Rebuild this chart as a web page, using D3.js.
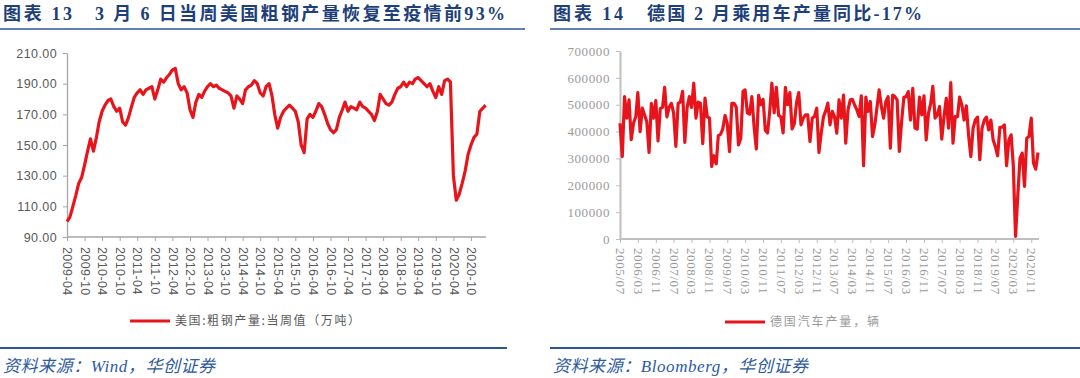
<!DOCTYPE html>
<html>
<head>
<meta charset="utf-8">
<script src="https://cdn.jsdelivr.net/npm/d3@7"></script>
<style>
body{margin:0;background:#fff;}
svg{display:block;}
</style>
</head>
<body>
<svg id="chart" width="1080" height="378"></svg>
<script>
// 美国粗钢产量（万吨），月度读数，起点 2009-04
var steelStart = "2009-04";
var steelValues = [
	100,103,110,117,125,129,137,146,154,146,155,165,
	172,176,179,180,175,172,174,165,163,168,175,181,
	184,186,183,186,187,188,180,186,193,191,194,196,
	199,200,190,186,188,184,173,168,178,183,181,185,
	188,190,188,189,187,186,185,184,182,174,182,180,
	177,186,188,189,192,190,184,182,188,190,182,170,
	161,168,172,174,176,174,172,165,150,145,167,170,
	168,172,177,175,170,164,160,158,160,168,173,178,
	172,175,174,173,178,175,174,172,170,166,172,183,
	180,177,176,178,183,187,188,191,188,191,190,193,
	194,192,190,188,190,185,181,188,183,192,193,191,
	130,114,118,125,133,144,150,155,157,172,174,176
];
var steelTicksY = [90,110,130,150,170,190,210];

// 德国汽车产量（辆），月度，起点 2005/07
var carStart = "2005-07";
var carValues = [
	431000,307000,530000,450000,518000,370000,431000,456000,545000,400000,487000,462000,
	437000,322000,505000,450000,515000,365000,485000,490000,565000,455000,490000,505000,
	470000,345000,505000,510000,550000,360000,490000,530000,490000,580000,450000,510000,
	505000,355000,525000,455000,450000,270000,310000,280000,385000,390000,410000,460000,
	430000,325000,505000,505000,490000,350000,375000,550000,555000,470000,465000,530000,
	420000,335000,535000,500000,520000,405000,395000,480000,580000,470000,565000,460000,
	455000,395000,565000,500000,545000,410000,430000,510000,545000,425000,450000,462000,
	462000,363000,450000,456000,487000,322000,394000,456000,475000,506000,425000,475000,
	456000,394000,518000,450000,536000,357000,481000,518000,520000,499000,481000,456000,
	533000,273000,528000,475000,512000,382000,425000,493000,555000,493000,450000,512000,
	530000,338000,536000,530000,518000,326000,437000,528000,530000,549000,443000,561000,
	413000,409000,528000,462000,533000,369000,468000,506000,568000,450000,462000,493000,
	372000,456000,524000,413000,582000,357000,456000,456000,528000,499000,443000,496000,
	388000,307000,413000,443000,454000,295000,413000,443000,454000,406000,443000,369000,
	344000,310000,416000,416000,425000,273000,369000,388000,276000,10000,159000,301000,
	320000,196000,375000,382000,450000,283000,260000,322000
];
var carTicksY = [0,100000,200000,300000,400000,500000,600000,700000];

var titleNums = ["图表 13", "图表 14"];
var titleTexts = ["3 月 6 日当周美国粗钢产量恢复至疫情前93%", "德国 2 月乘用车产量同比-17%"];
var legendNames = ["美国:粗钢产量:当周值（万吨）", "德国汽车产量，辆"];
var sources = ["资料来源：Wind，华创证券", "资料来源：Bloomberg，华创证券"];

var parseMonth = d3.timeParse("%Y-%m");
var svg = d3.select("#chart");
var RED = "#e8141c";

var toSeries = function(start, values) {
	var s = parseMonth(start);
	return values.map(function(v, i) {
		return {date: d3.timeMonth.offset(s, i), value: v};
	});
};

/**
 * Frame of one panel: title, rules, source.
 */
var drawFrame = function(cfg) {
	var g = svg.append("g");
	g.append("text")
	.attr("x", cfg.x0)
	.attr("y", 20)
	.attr("font-family", "'Liberation Serif','Noto Sans CJK SC',serif")
	.attr("font-weight", "bold")
	.attr("font-size", 18)
	.attr("fill", "#1e3f7a")
	.attr("textLength", cfg.numW)
	.attr("lengthAdjust", "spacing")
	.text(cfg.num);
	g.append("text")
	.attr("x", cfg.titleX)
	.attr("y", 20)
	.attr("font-family", "'Liberation Serif','Noto Sans CJK SC',serif")
	.attr("font-weight", "bold")
	.attr("font-size", 18)
	.attr("fill", "#1e3f7a")
	.attr("textLength", cfg.titleW)
	.attr("lengthAdjust", "spacing")
	.text(cfg.title);
	g.append("line")
	.attr("x1", cfg.x0 - 3).attr("x2", cfg.x1)
	.attr("y1", 29).attr("y2", 29)
	.attr("stroke", "#2b5797").attr("stroke-width", 1.6);
	g.append("line")
	.attr("x1", cfg.x0 - 3).attr("x2", cfg.ruleEnd)
	.attr("y1", 348).attr("y2", 348)
	.attr("stroke", "#2b5797").attr("stroke-width", 2);
	g.append("text")
	.attr("x", cfg.x0)
	.attr("y", 372)
	.attr("font-family", "'Liberation Serif','Noto Sans CJK SC',serif")
	.attr("font-style", "italic")
	.attr("font-size", 17)
	.attr("fill", "#2e5aa0")
	.attr("textLength", cfg.srcW)
	.attr("lengthAdjust", "spacing")
	.text(cfg.source);
};

var makePanel = function(p) {
	var x = d3.scaleTime().domain(p.xDomain).range(p.xRange);
	var y = d3.scaleLinear().domain(p.yDomain).range(p.yRange);
	var g = svg.append("g");

	// y axis
	var ya = g.append("g")
	.attr("transform", "translate(" + p.xRange[0] + ",0)")
	.call(d3.axisLeft(y).tickValues(p.yTicks).tickFormat(p.yFormat)
		.tickSize(4).tickSizeOuter(0).tickPadding(6));
	ya.select(".domain").attr("stroke", p.axisColor).attr("stroke-width", p.axisW);
	ya.selectAll(".tick line").attr("stroke", p.axisColor).attr("stroke-width", 1);
	ya.selectAll("text")
	.attr("font-family", p.font).attr("font-size", p.fontSize)
	.attr("letter-spacing", p.spacing).attr("fill", p.textColor);

	// x axis
	var xa = g.append("g")
	.attr("transform", "translate(0," + p.yRange[0] + ")")
	.call(d3.axisBottom(x).tickValues(p.xTicks).tickFormat(d3.timeFormat(p.xFormat))
		.tickSize(4).tickSizeOuter(0));
	xa.select(".domain").attr("stroke", p.axisColor).attr("stroke-width", p.axisW)
	.attr("d", "M" + p.xRange[0] + ",0H" + p.xEnd);
	xa.selectAll(".tick line").attr("stroke", p.axisColor).attr("stroke-width", 1);
	xa.selectAll("text")
	.attr("transform", "rotate(90)")
	.attr("x", p.xLabelPad).attr("y", 0).attr("dy", "0.35em")
	.attr("text-anchor", "start")
	.attr("font-family", p.font).attr("font-size", p.fontSize)
	.attr("letter-spacing", p.spacing).attr("fill", p.textColor);

	var line = d3.line()
	.x(function(d) { return x(d.date); })
	.y(function(d) { return y(d.value); });

	g.append("path")
	.datum(p.data)
	.attr("fill", "none")
	.attr("stroke", RED)
	.attr("stroke-width", 3.2)
	.attr("stroke-linejoin", "round")
	.attr("d", line);

	// legend
	g.append("line")
	.attr("x1", p.legX).attr("x2", p.legX + 40)
	.attr("y1", p.legY).attr("y2", p.legY)
	.attr("stroke", RED).attr("stroke-width", 3);
	g.append("text")
	.attr("x", p.legX + 45)
	.attr("y", p.legY)
	.attr("dy", "0.35em")
	.attr("font-family", "'Noto Sans CJK SC',sans-serif")
	.attr("font-size", 12)
	.attr("fill", p.legColor)
	.attr("textLength", p.legW)
	.attr("lengthAdjust", "spacing")
	.text(p.legName);
};

var steel = toSeries(steelStart, steelValues);
var cars = toSeries(carStart, carValues);

drawFrame({x0: 3, x1: 525, ruleEnd: 507, num: titleNums[0], numW: 69, titleX: 95, titleW: 410,
	title: titleTexts[0], source: sources[0], srcW: 212});
drawFrame({x0: 553, x1: 1080, ruleEnd: 1080, num: titleNums[1], numW: 70, titleX: 647, titleW: 275,
	title: titleTexts[1], source: sources[1], srcW: 255});

var steelEnd = new Date(2021, 2, 6);
makePanel({
	data: steel,
	xDomain: [parseMonth(steelStart), steelEnd], xRange: [67, 486], xEnd: 486,
	xTicks: d3.timeMonth.range(parseMonth(steelStart), steelEnd, 6), xFormat: "%Y-%m",
	yDomain: [90, 210], yRange: [237, 53], yTicks: steelTicksY, yFormat: d3.format(".2f"),
	axisColor: "#a6a6a6", axisW: 1.3, font: "'Liberation Sans',Arial,sans-serif",
	fontSize: 12.5, spacing: 0.4, textColor: "#595959", xLabelPad: 10,
	legX: 130, legY: 321, legName: legendNames[0], legW: 185, legColor: "#595959"
});

var carEnd = parseMonth("2021-02");
makePanel({
	data: cars,
	xDomain: [parseMonth(carStart), carEnd], xRange: [620, 1038], xEnd: 1039,
	xTicks: d3.timeMonth.range(parseMonth(carStart), d3.timeMonth.offset(carEnd, 1), 8), xFormat: "%Y/%m",
	yDomain: [0, 700000], yRange: [239, 51], yTicks: carTicksY, yFormat: d3.format("d"),
	axisColor: "#bfbfbf", axisW: 2, font: "'Liberation Serif','Times New Roman',serif",
	fontSize: 13, spacing: 0.6, textColor: "#9a9a9a", xLabelPad: 9,
	legX: 725, legY: 322, legName: legendNames[1], legW: 109, legColor: "#9a9a9a"
});
</script>
</body>
</html>
